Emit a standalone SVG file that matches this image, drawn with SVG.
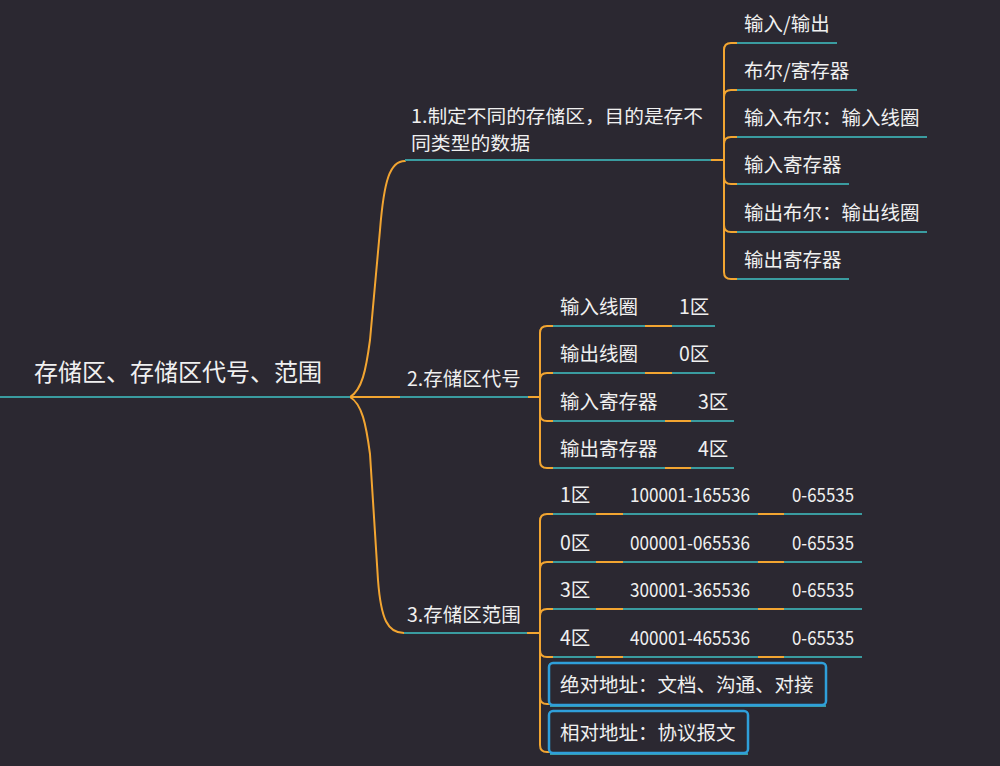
<svg xmlns="http://www.w3.org/2000/svg" width="1000" height="766" viewBox="0 0 1000 766">
<style>
.t{font-family:"Noto Sans CJK SC","Noto Sans",sans-serif;fill:#f0f0f0;font-size:19.5px}
.root{font-size:24px}
.b1{font-size:18.5px}
.ul{stroke:#3a9ca0;stroke-width:2;fill:none}
.or{stroke:#f2a531;stroke-width:2;fill:none;stroke-linecap:round}
.box{fill:none;stroke:#2f9fda;stroke-width:2.5}
</style>
<rect x="0" y="0" width="1000" height="766" fill="#2b2831"/>
<g id="connectors">
<path class="or" d="M350,397 C362,390 366,370 370,340 L380,230 C384,180 390,161 405,161"/>
<path class="or" d="M350,397 H400"/>
<path class="or" d="M350,397 C362,404 366,424 370,454 L378,580 C381,620 388,633 404,633"/>
<path class="or" d="M711,160 H724"/>
<path class="or" d="M724,160 V50 Q724,43 731,43 H737"/>
<path class="or" d="M724,160 V97 Q724,90 731,90 H737"/>
<path class="or" d="M724,160 V144 Q724,137 731,137 H737"/>
<path class="or" d="M724,160 V177 Q724,184 731,184 H737"/>
<path class="or" d="M724,160 V225 Q724,232 731,232 H737"/>
<path class="or" d="M724,160 V272 Q724,279 731,279 H737"/>
<path class="or" d="M528,397 H540"/>
<path class="or" d="M540,397 V333 Q540,326 547,326 H553"/>
<path class="or" d="M540,397 V380 Q540,373 547,373 H553"/>
<path class="or" d="M540,397 V414 Q540,421 547,421 H553"/>
<path class="or" d="M540,397 V461 Q540,468 547,468 H553"/>
<path class="or" d="M527,633 H540"/>
<path class="or" d="M540,633 V521 Q540,514 547,514 H553"/>
<path class="or" d="M540,633 V569 Q540,562 547,562 H553"/>
<path class="or" d="M540,633 V616 Q540,609 547,609 H553"/>
<path class="or" d="M540,633 V650 Q540,657 547,657 H553"/>
<path class="or" d="M540,633 V697 Q540,704 547,704 H550"/>
<path class="or" d="M540,633 V745 Q540,752 547,752 H550"/>
<path class="or" d="M645,326 H672 M645,373 H672 M665,421 H691 M665,468 H691"/>
<path class="or" d="M596,514 H623 M758,514 H784 M596,562 H623 M758,562 H784 M596,609 H623 M758,609 H784 M596,657 H623 M758,657 H784"/>
</g>
<g id="root">
<path class="ul" d="M0,397 H350"/>
<text class="t root" x="34" y="381">存储区、存储区代号、范围</text>
</g>
<g id="branch1">
<path class="ul" d="M405,160 H711"/>
<text class="t b1" x="411" y="123" textLength="292" lengthAdjust="spacingAndGlyphs">1.制定不同的存储区，目的是存不</text>
<text class="t b1" x="411" y="150" textLength="119" lengthAdjust="spacingAndGlyphs">同类型的数据</text>
</g>
<g id="b1c1"><path class="ul" d="M737,43 H837"/><text class="t" x="744" y="31">输入/输出</text></g>
<g id="b1c2"><path class="ul" d="M737,90 H857"/><text class="t" x="744" y="78">布尔/寄存器</text></g>
<g id="b1c3"><path class="ul" d="M737,137 H927"/><text class="t" x="744" y="125">输入布尔：输入线圈</text></g>
<g id="b1c4"><path class="ul" d="M737,184 H849"/><text class="t" x="744" y="172">输入寄存器</text></g>
<g id="b1c5"><path class="ul" d="M737,232 H927"/><text class="t" x="744" y="220">输出布尔：输出线圈</text></g>
<g id="b1c6"><path class="ul" d="M737,279 H849"/><text class="t" x="744" y="267">输出寄存器</text></g>
<g id="branch2">
<path class="ul" d="M400,397 H528"/>
<text class="t" x="407" y="386">2.存储区代号</text>
</g>
<g id="b2c1"><path class="ul" d="M553,326 H645"/><text class="t" x="560" y="314">输入线圈</text></g>
<g id="b2c1a"><path class="ul" d="M672,326 H715"/><text class="t" x="679" y="314">1区</text></g>
<g id="b2c2"><path class="ul" d="M553,373 H645"/><text class="t" x="560" y="361">输出线圈</text></g>
<g id="b2c2a"><path class="ul" d="M672,373 H715"/><text class="t" x="679" y="361">0区</text></g>
<g id="b2c3"><path class="ul" d="M553,421 H665"/><text class="t" x="560" y="409">输入寄存器</text></g>
<g id="b2c3a"><path class="ul" d="M691,421 H734"/><text class="t" x="698" y="409">3区</text></g>
<g id="b2c4"><path class="ul" d="M553,468 H665"/><text class="t" x="560" y="456">输出寄存器</text></g>
<g id="b2c4a"><path class="ul" d="M691,468 H734"/><text class="t" x="698" y="456">4区</text></g>
<g id="branch3">
<path class="ul" d="M404,633 H527"/>
<text class="t" x="407" y="622">3.存储区范围</text>
</g>
<g id="b3r1">
<path class="ul" d="M553,514 H596 M623,514 H758 M784,514 H862"/>
<text class="t" x="560" y="502">1区</text>
<text class="t" x="630" y="502" textLength="120" lengthAdjust="spacingAndGlyphs">100001-165536</text>
<text class="t" x="792" y="502" textLength="62" lengthAdjust="spacingAndGlyphs">0-65535</text>
</g>
<g id="b3r2">
<path class="ul" d="M553,562 H596 M623,562 H758 M784,562 H862"/>
<text class="t" x="560" y="550">0区</text>
<text class="t" x="630" y="550" textLength="120" lengthAdjust="spacingAndGlyphs">000001-065536</text>
<text class="t" x="792" y="550" textLength="62" lengthAdjust="spacingAndGlyphs">0-65535</text>
</g>
<g id="b3r3">
<path class="ul" d="M553,609 H596 M623,609 H758 M784,609 H862"/>
<text class="t" x="560" y="597">3区</text>
<text class="t" x="630" y="597" textLength="120" lengthAdjust="spacingAndGlyphs">300001-365536</text>
<text class="t" x="792" y="597" textLength="62" lengthAdjust="spacingAndGlyphs">0-65535</text>
</g>
<g id="b3r4">
<path class="ul" d="M553,657 H596 M623,657 H758 M784,657 H862"/>
<text class="t" x="560" y="645">4区</text>
<text class="t" x="630" y="645" textLength="120" lengthAdjust="spacingAndGlyphs">400001-465536</text>
<text class="t" x="792" y="645" textLength="62" lengthAdjust="spacingAndGlyphs">0-65535</text>
</g>
<g id="b3box1">
<path class="ul" d="M550,706 H826"/>
<rect class="box" x="549" y="663" width="277" height="42" rx="4"/>
<text class="t" x="560" y="692">绝对地址：文档、沟通、对接</text>
</g>
<g id="b3box2">
<path class="ul" d="M550,754 H748"/>
<rect class="box" x="549" y="711" width="199" height="42" rx="4"/>
<text class="t" x="560" y="740">相对地址：协议报文</text>
</g>
</svg>
